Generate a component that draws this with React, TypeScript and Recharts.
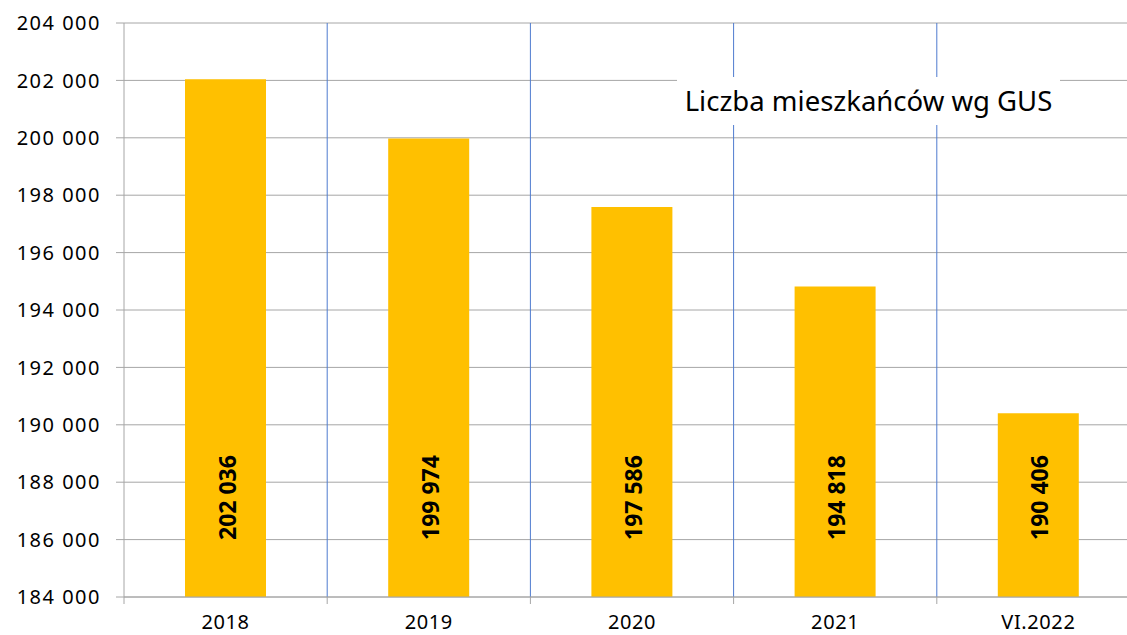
import { BarChart, Bar, XAxis, YAxis, CartesianGrid, ReferenceLine, LabelList } from 'recharts'

const categories = ['2018', '2019', '2020', '2021', 'VI.2022']
const residents = [202036, 199974, 197586, 194818, 190406]
const yTicks = [184000, 186000, 188000, 190000, 192000, 194000, 196000, 198000, 200000, 202000, 204000]
const seriesName = 'Liczba mieszkańców wg GUS'

const data = categories.map((year, i) => ({ year, value: residents[i] }))

const GRAY = '#A6A6A6'
const BLUE = '#4F7BCF'
const FONT = '"Noto Sans", sans-serif'

const CHART_W = 1140
const CHART_H = 635
const Y_AXIS_W = 124
const X_AXIS_H = 38

const fmt = (v: number) => `${Math.floor(v / 1000)} ${String(v % 1000).padStart(3, '0')}`

function XTick(props: any) {
  const { x, y, payload } = props
  const half = payload?.offset ?? (CHART_W - Y_AXIS_W) / categories.length / 2
  return (
    <g>
      <line x1={x - half} x2={x - half} y1={y} y2={y + 7} stroke={GRAY} strokeWidth={1} />
      <text x={x} y={y + 32} textAnchor="middle" fontFamily={FONT} fontSize={20} letterSpacing={0.6} fill="#000">
        {payload.value}
      </text>
    </g>
  )
}

function ValueLabel(props: any) {
  const { x, y, width, height, value } = props
  const cx = x + width / 2 + 1
  const ty = y + height - 57
  return (
    <text
      x={cx}
      y={ty}
      transform={`rotate(-90, ${cx}, ${ty})`}
      textAnchor="start"
      dominantBaseline="central"
      fontFamily={FONT}
      fontWeight="bold"
      fontSize={23}
      fill="#000"
    >
      {fmt(Number(value))}
    </text>
  )
}

export default function App() {
  return (
    <div style={{ position: 'absolute', left: 0, top: 0, width: 1127, height: 635, overflow: 'hidden', background: '#fff' }}>
      <BarChart width={CHART_W} height={CHART_H} data={data} margin={{ top: 23, right: 0, bottom: 0, left: 0 }}>
        <CartesianGrid vertical={false} stroke={GRAY} strokeWidth={1} />
        {categories.slice(1).map((c) => (
          <ReferenceLine key={c} x={c} position="start" stroke={BLUE} strokeWidth={1} />
        ))}
        <XAxis
          dataKey="year"
          height={X_AXIS_H}
          axisLine={{ stroke: GRAY }}
          tickLine={false}
          tickSize={0}
          tickMargin={0}
          tick={<XTick />}
          interval={0}
        />
        <YAxis
          width={Y_AXIS_W}
          domain={[184000, 204000]}
          ticks={yTicks}
          interval={0}
          allowDataOverflow
          axisLine={{ stroke: GRAY }}
          tickLine={{ stroke: GRAY }}
          tickSize={8}
          tickMargin={15}
          tickFormatter={fmt}
          tick={{ fontFamily: FONT, fontSize: 20, fill: '#000', letterSpacing: 1.5 }}
        />
        <Bar dataKey="value" name={seriesName} fill="#FFC000" barSize={81} isAnimationActive={false}>
          <LabelList dataKey="value" content={<ValueLabel />} />
        </Bar>
      </BarChart>
      <div
        style={{
          position: 'absolute',
          left: 677,
          top: 77,
          width: 383,
          height: 48,
          background: '#fff',
          fontFamily: FONT,
          fontSize: 27.5,
          lineHeight: '48px',
          textAlign: 'center',
          color: '#000',
          whiteSpace: 'nowrap',
        }}
      >
        {seriesName}
      </div>
    </div>
  )
}
